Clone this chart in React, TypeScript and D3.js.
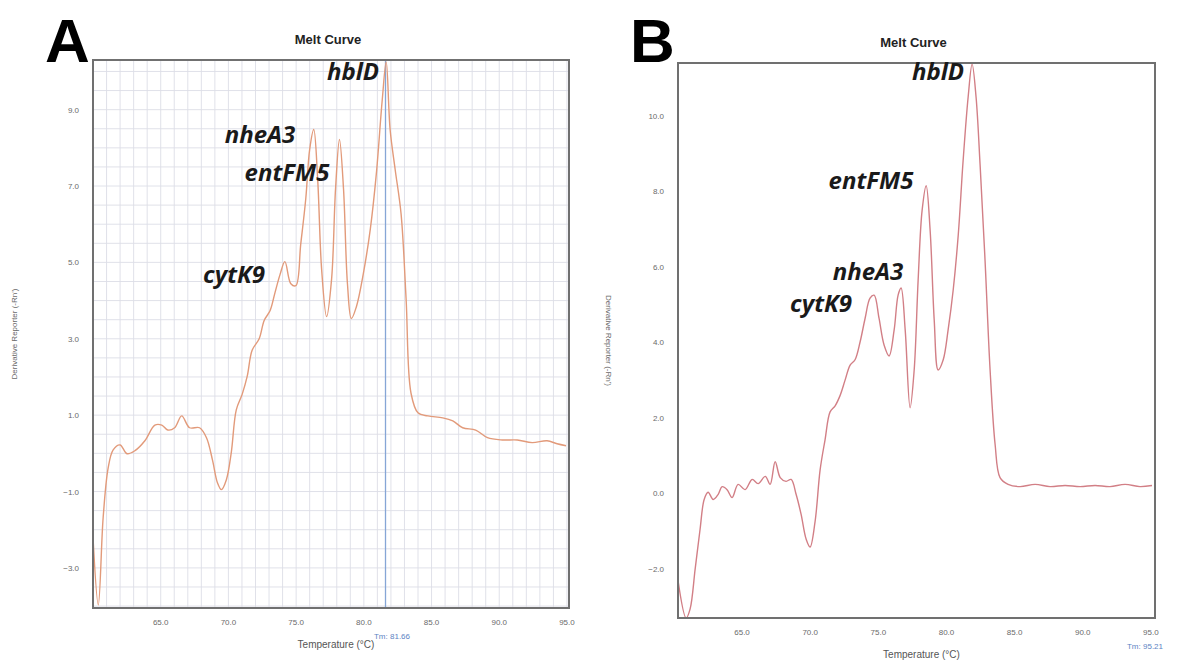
import React from "react";
import * as d3 from "d3";

// ---------- DATA ----------
// Panel A: temperature (°C) vs derivative reporter
const tempA = [60.0, 60.39, 60.75, 61.12, 61.49, 62.0, 62.51, 63.1, 63.83, 64.57, 65.08, 65.52, 66.03, 66.55, 67.13, 67.87, 68.38, 68.82, 69.19, 69.48, 69.85, 70.21, 70.58, 71.02, 71.39, 71.75, 72.27, 72.64, 73.08, 73.44, 73.81, 74.17, 74.61, 74.98, 75.34, 75.71, 76.0, 76.3, 76.59, 76.88, 77.25, 77.62, 77.91, 78.2, 78.5, 78.79, 79.08, 79.45, 79.96, 80.48, 80.92, 81.36, 81.65, 81.94, 82.31, 82.75, 83.12, 83.48, 84.0, 84.73, 85.83, 86.57, 87.3, 88.26, 89.13, 90.23, 91.33, 92.43, 93.53, 94.27, 94.93];
const derivA = [-2.2, -3.97, -1.68, -0.38, 0.09, 0.22, -0.01, 0.07, 0.33, 0.74, 0.74, 0.61, 0.67, 0.98, 0.67, 0.67, 0.41, -0.17, -0.77, -0.95, -0.69, 0.02, 1.14, 1.55, 2.02, 2.7, 3.0, 3.48, 3.74, 4.21, 4.68, 5.02, 4.44, 4.39, 5.48, 6.66, 7.96, 8.48, 7.18, 4.83, 3.58, 4.57, 6.92, 8.22, 6.92, 4.44, 3.53, 3.84, 4.7, 5.88, 7.31, 9.26, 10.25, 8.48, 7.44, 6.27, 4.05, 1.58, 1.06, 0.98, 0.93, 0.85, 0.67, 0.61, 0.41, 0.35, 0.35, 0.28, 0.33, 0.25, 0.2];

// Panel B
const tempB = [60.3, 60.9, 61.19, 61.56, 61.92, 62.22, 62.51, 62.88, 63.24, 63.54, 63.9, 64.27, 64.71, 65.22, 65.74, 66.18, 66.7, 67.06, 67.43, 67.8, 68.23, 68.6, 68.97, 69.33, 69.7, 69.99, 70.36, 70.73, 71.09, 71.46, 71.83, 72.19, 72.56, 72.93, 73.29, 73.66, 74.03, 74.39, 74.69, 75.05, 75.42, 75.79, 76.16, 76.45, 76.67, 76.97, 77.33, 77.63, 77.92, 78.21, 78.51, 78.8, 79.1, 79.39, 79.76, 80.12, 80.49, 80.86, 81.22, 81.59, 81.88, 82.17, 82.47, 82.83, 83.2, 83.57, 83.93, 84.52, 85.4, 86.5, 87.6, 88.7, 89.8, 90.9, 92.0, 93.1, 94.2, 95.08];
const derivB = [-2.3, -3.3, -3.06, -2.0, -0.95, -0.16, 0.03, -0.16, -0.03, 0.18, 0.1, -0.11, 0.24, 0.1, 0.37, 0.26, 0.45, 0.24, 0.84, 0.42, 0.32, 0.37, -0.03, -0.55, -1.21, -1.42, -0.74, 0.63, 1.42, 2.16, 2.32, 2.59, 3.0, 3.4, 3.54, 4.01, 4.64, 5.17, 5.25, 4.64, 3.93, 3.64, 4.33, 5.25, 5.44, 4.33, 2.27, 3.27, 5.65, 7.49, 8.15, 6.97, 4.59, 3.27, 3.54, 4.33, 5.38, 6.83, 8.81, 10.5, 11.37, 10.5, 8.68, 6.17, 3.27, 1.29, 0.42, 0.24, 0.18, 0.24, 0.18, 0.21, 0.18, 0.21, 0.18, 0.24, 0.18, 0.21];

const xTicks = [65, 70, 75, 80, 85, 90, 95];
const yTicksA = [-3, -1, 1, 3, 5, 7, 9];
const yTicksB = [-2, 0, 2, 4, 6, 8, 10];

const genesA = ["hblD", "nheA3", "entFM5", "cytK9"];
const genesB = ["hblD", "entFM5", "nheA3", "cytK9"];

const tmA = 81.6;
const tmLabelA = "Tm: 81.66";
const tmLabelB = "Tm: 95.21";

// ---------- LAYOUT ----------
const W = 1178, H = 661;

const xA = d3.scaleLinear().domain([60, 95.15]).range([93, 569]);
const yA = d3.scaleLinear().domain([-4.05, 10.3]).range([608, 60]);
const xB = d3.scaleLinear().domain([60.3, 95.3]).range([678, 1155]);
const yB = d3.scaleLinear().domain([-3.3, 11.4]).range([618, 63]);

const labelPosA: Record<string, [number, number]> = {
  hblD: [353, 80],
  nheA3: [260, 143],
  entFM5: [287, 181],
  cytK9: [234, 283],
};
const labelPosB: Record<string, [number, number]> = {
  hblD: [938, 80],
  entFM5: [871, 189],
  nheA3: [868, 280],
  cytK9: [821, 312],
};

const tickFont = "Liberation Sans, Arial, sans-serif";

function Panel(props: {
  x: d3.ScaleLinear<number, number>;
  y: d3.ScaleLinear<number, number>;
  temps: number[];
  vals: number[];
  yTicks: number[];
  color: string;
  grid: boolean;
  letter: string;
  genes: string[];
  labelPos: Record<string, [number, number]>;
  tm: number | null;
  tmLabel: string;
  tmLabelX: number;
  yLabelRot: number;
  yLabelX: number;
  id: string;
}) {
  const { x, y, temps, vals, yTicks, color, grid } = props;
  const [x0, x1] = x.range();
  const [y0, y1] = y.range();
  const line = d3
    .line<number>()
    .x((_, i) => x(temps[i]))
    .y((v) => y(v))
    .curve(d3.curveCatmullRom.alpha(0.5));
  const path = line(vals) || "";
  const vGrid = grid ? d3.range(Math.ceil(x.domain()[0]), Math.floor(x.domain()[1]) + 1, 1) : [];
  const hGrid = grid ? d3.range(-4, 10.51, 0.5) : [];
  const cx = (x0 + x1) / 2;
  const yMid = (y0 + y1) / 2;
  const fmt = d3.format(".1f");
  return (
    <g>
      <defs>
        <clipPath id={"clip" + props.id}>
          <rect x={x0} y={y1} width={x1 - x0} height={y0 - y1} />
        </clipPath>
      </defs>
      <text x={x0 - 48} y={62} fontFamily="Liberation Sans, Arial, sans-serif" fontWeight="bold" fontSize={62} fill="#000">
        {props.letter}
      </text>
      <text x={cx - 3} y={y1 - 16} textAnchor="middle" fontFamily={tickFont} fontWeight="bold" fontSize={13} fill="#222">
        Melt Curve
      </text>
      <g clipPath={`url(#clip${props.id})`}>
        {vGrid.map((t) => (
          <line key={"v" + t} x1={x(t)} x2={x(t)} y1={y1} y2={y0} stroke="#dcdee6" strokeWidth={0.9} />
        ))}
        {hGrid.map((t) => (
          <line key={"h" + t} x1={x0} x2={x1} y1={y(t)} y2={y(t)} stroke="#dcdee6" strokeWidth={0.9} />
        ))}
        {props.tm !== null && (
          <line x1={x(props.tm)} x2={x(props.tm)} y1={y1} y2={y0} stroke="#86a6d6" strokeWidth={1.3} />
        )}
        <path d={path} fill="none" stroke={color} strokeWidth={1.4} />
      </g>
      <rect x={x0} y={y1} width={x1 - x0} height={y0 - y1} fill="none" stroke="#707070" strokeWidth={2} />
      {xTicks.map((t) => (
        <text key={"xt" + t} x={x(t)} y={y0 + 17} textAnchor="middle" fontFamily={tickFont} fontSize={8} fill="#6a6a6a">
          {fmt(t)}
        </text>
      ))}
      {yTicks.map((t) => (
        <text key={"yt" + t} x={x0 - 14} y={y(t) + 3} textAnchor="end" fontFamily={tickFont} fontSize={8} fill="#6a6a6a">
          {fmt(t)}
        </text>
      ))}
      <text x={cx + 5} y={y0 + 40} textAnchor="middle" fontFamily={tickFont} fontSize={10} fill="#555">
        Temperature (°C)
      </text>
      <text
        transform={`translate(${props.yLabelX},${yMid}) rotate(${props.yLabelRot})`}
        textAnchor="middle"
        fontFamily={tickFont}
        fontSize={8}
        fill="#6a6a6a"
      >
        Derivative Reporter (-Rn')
      </text>
      <text x={props.tmLabelX} y={y0 + 31} textAnchor="middle" fontFamily={tickFont} fontSize={8} fill="#5b84c4">
        {props.tmLabel}
      </text>
      {props.genes.map((g) => (
        <text
          key={g}
          x={props.labelPos[g][0]}
          y={props.labelPos[g][1]}
          textAnchor="middle"
          fontFamily="Open Sans, Lato, sans-serif"
          fontStyle="italic"
          fontWeight="bold"
          fontSize={24}
          fill="#1a1a1a"
        >
          {g}
        </text>
      ))}
    </g>
  );
}

export default function App() {
  return (
    <div style={{ position: "absolute", left: 0, top: 0 }}>
      <svg width={W} height={H} viewBox={`0 0 ${W} ${H}`} style={{ display: "block", background: "#fff" }}>
        <rect x={0} y={0} width={W} height={H} fill="#fff" />
        <Panel
          id="A"
          x={xA}
          y={yA}
          temps={tempA}
          vals={derivA}
          yTicks={yTicksA}
          color="#e29a7a"
          grid={true}
          letter="A"
          genes={genesA}
          labelPos={labelPosA}
          tm={tmA}
          tmLabel={tmLabelA}
          tmLabelX={392}
          yLabelRot={-90}
          yLabelX={17}
        />
        <Panel
          id="B"
          x={xB}
          y={yB}
          temps={tempB}
          vals={derivB}
          yTicks={yTicksB}
          color="#d27f86"
          grid={false}
          letter="B"
          genes={genesB}
          labelPos={labelPosB}
          tm={null}
          tmLabel={tmLabelB}
          tmLabelX={1145}
          yLabelRot={90}
          yLabelX={606}
        />
      </svg>
    </div>
  );
}
